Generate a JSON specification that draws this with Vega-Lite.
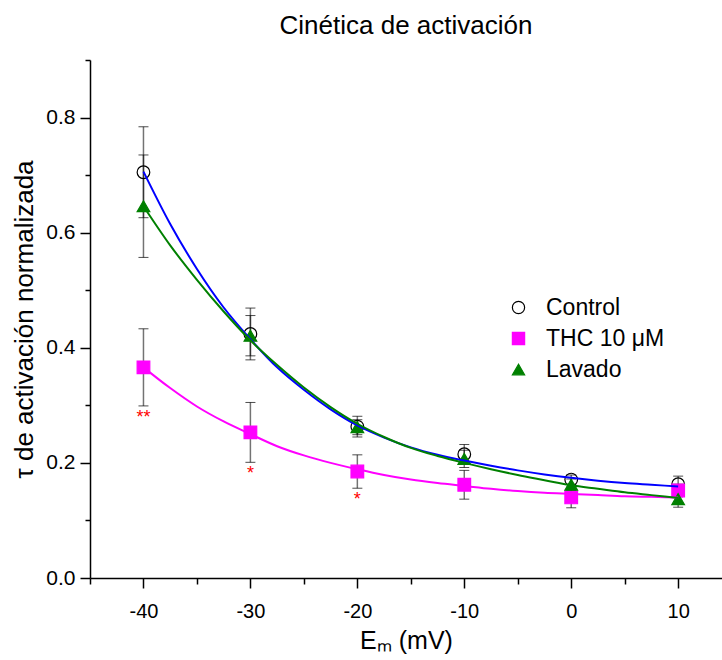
{
  "$schema": "https://vega.github.io/schema/vega-lite/v6.json",
  "width": 632,
  "height": 518,
  "autosize": {"type": "none"},
  "padding": {"left": 90, "top": 60, "right": 0, "bottom": 82},
  "background": "white",
  "title": {"text": "Cinética de activación", "fontSize": 26, "font": "Liberation Sans", "fontWeight": "normal", "color": "black", "offset": 20},
  "config": {"view": {"stroke": null}, "font": "Liberation Sans"},
  "datasets": {
    "points": [
      {"E": -40, "tau": 0.705, "err": 0.079, "series": "Control", "sig": ""},
      {"E": -30, "tau": 0.424, "err": 0.045, "series": "Control", "sig": ""},
      {"E": -20, "tau": 0.263, "err": 0.018, "series": "Control", "sig": ""},
      {"E": -10, "tau": 0.215, "err": 0.017, "series": "Control", "sig": ""},
      {"E": 0, "tau": 0.171, "err": 0.008, "series": "Control", "sig": ""},
      {"E": 10, "tau": 0.163, "err": 0.014, "series": "Control", "sig": ""},
      {"E": -40, "tau": 0.366, "err": 0.067, "series": "THC 10 μM", "sig": "**"},
      {"E": -30, "tau": 0.253, "err": 0.052, "series": "THC 10 μM", "sig": "*"},
      {"E": -20, "tau": 0.185, "err": 0.029, "series": "THC 10 μM", "sig": "*"},
      {"E": -10, "tau": 0.162, "err": 0.025, "series": "THC 10 μM", "sig": ""},
      {"E": 0, "tau": 0.140, "err": 0.018, "series": "THC 10 μM", "sig": ""},
      {"E": 10, "tau": 0.152, "err": 0.011, "series": "THC 10 μM", "sig": ""},
      {"E": -40, "tau": 0.646, "err": 0.089, "series": "Lavado", "sig": ""},
      {"E": -30, "tau": 0.421, "err": 0.035, "series": "Lavado", "sig": ""},
      {"E": -20, "tau": 0.262, "err": 0.013, "series": "Lavado", "sig": ""},
      {"E": -10, "tau": 0.207, "err": 0.015, "series": "Lavado", "sig": ""},
      {"E": 0, "tau": 0.162, "err": 0.010, "series": "Lavado", "sig": ""},
      {"E": 10, "tau": 0.137, "err": 0.014, "series": "Lavado", "sig": ""}
    ],
    "curves": [
      {"E": -40, "tau": 0.706, "series": "Control"},
      {"E": -37.5, "tau": 0.615, "series": "Control"},
      {"E": -35, "tau": 0.537, "series": "Control"},
      {"E": -32.5, "tau": 0.470, "series": "Control"},
      {"E": -30, "tau": 0.415, "series": "Control"},
      {"E": -27.5, "tau": 0.366, "series": "Control"},
      {"E": -25, "tau": 0.327, "series": "Control"},
      {"E": -22.5, "tau": 0.293, "series": "Control"},
      {"E": -20, "tau": 0.265, "series": "Control"},
      {"E": -17.5, "tau": 0.244, "series": "Control"},
      {"E": -15, "tau": 0.227, "series": "Control"},
      {"E": -12.5, "tau": 0.214, "series": "Control"},
      {"E": -10, "tau": 0.204, "series": "Control"},
      {"E": -7.5, "tau": 0.195, "series": "Control"},
      {"E": -5, "tau": 0.187, "series": "Control"},
      {"E": -2.5, "tau": 0.180, "series": "Control"},
      {"E": 0, "tau": 0.174, "series": "Control"},
      {"E": 2.5, "tau": 0.169, "series": "Control"},
      {"E": 5, "tau": 0.165, "series": "Control"},
      {"E": 7.5, "tau": 0.162, "series": "Control"},
      {"E": 10, "tau": 0.159, "series": "Control"},
      {"E": -40, "tau": 0.366, "series": "THC 10 μM"},
      {"E": -37.5, "tau": 0.330, "series": "THC 10 μM"},
      {"E": -35, "tau": 0.298, "series": "THC 10 μM"},
      {"E": -32.5, "tau": 0.272, "series": "THC 10 μM"},
      {"E": -30, "tau": 0.250, "series": "THC 10 μM"},
      {"E": -27.5, "tau": 0.229, "series": "THC 10 μM"},
      {"E": -25, "tau": 0.213, "series": "THC 10 μM"},
      {"E": -22.5, "tau": 0.200, "series": "THC 10 μM"},
      {"E": -20, "tau": 0.189, "series": "THC 10 μM"},
      {"E": -17.5, "tau": 0.179, "series": "THC 10 μM"},
      {"E": -15, "tau": 0.171, "series": "THC 10 μM"},
      {"E": -12.5, "tau": 0.165, "series": "THC 10 μM"},
      {"E": -10, "tau": 0.160, "series": "THC 10 μM"},
      {"E": -7.5, "tau": 0.155, "series": "THC 10 μM"},
      {"E": -5, "tau": 0.151, "series": "THC 10 μM"},
      {"E": -2.5, "tau": 0.148, "series": "THC 10 μM"},
      {"E": 0, "tau": 0.146, "series": "THC 10 μM"},
      {"E": 2.5, "tau": 0.144, "series": "THC 10 μM"},
      {"E": 5, "tau": 0.142, "series": "THC 10 μM"},
      {"E": 7.5, "tau": 0.141, "series": "THC 10 μM"},
      {"E": 10, "tau": 0.140, "series": "THC 10 μM"},
      {"E": -40, "tau": 0.646, "series": "Lavado"},
      {"E": -37.5, "tau": 0.578, "series": "Lavado"},
      {"E": -35, "tau": 0.518, "series": "Lavado"},
      {"E": -32.5, "tau": 0.463, "series": "Lavado"},
      {"E": -30, "tau": 0.413, "series": "Lavado"},
      {"E": -27.5, "tau": 0.370, "series": "Lavado"},
      {"E": -25, "tau": 0.331, "series": "Lavado"},
      {"E": -22.5, "tau": 0.297, "series": "Lavado"},
      {"E": -20, "tau": 0.268, "series": "Lavado"},
      {"E": -17.5, "tau": 0.245, "series": "Lavado"},
      {"E": -15, "tau": 0.226, "series": "Lavado"},
      {"E": -12.5, "tau": 0.212, "series": "Lavado"},
      {"E": -10, "tau": 0.200, "series": "Lavado"},
      {"E": -7.5, "tau": 0.189, "series": "Lavado"},
      {"E": -5, "tau": 0.179, "series": "Lavado"},
      {"E": -2.5, "tau": 0.170, "series": "Lavado"},
      {"E": 0, "tau": 0.161, "series": "Lavado"},
      {"E": 2.5, "tau": 0.155, "series": "Lavado"},
      {"E": 5, "tau": 0.149, "series": "Lavado"},
      {"E": 7.5, "tau": 0.144, "series": "Lavado"},
      {"E": 10, "tau": 0.139, "series": "Lavado"}
    ]
  },
  "encoding": {
    "x": {
      "field": "E", "type": "quantitative",
      "scale": {"domain": [-45, 14.1], "nice": false, "zero": false},
      "axis": {
        "title": "Eₘ (mV)",
        "values": [-45, -40, -35, -30, -25, -20, -15, -10, -5, 0, 5, 10],
        "labelExpr": "datum.value % 10 == 0 ? (datum.value + '') : ''",
        "tickSize": {"condition": {"test": "datum.value % 10 != 0", "value": 6}, "value": 10},
        "grid": false,
        "domainColor": "black", "domainWidth": 1.5,
        "tickColor": "black", "tickWidth": 1.5,
        "labelFontSize": 20, "labelColor": "black", "labelPadding": 13, "labelFlush": false,
        "labelFont": "Liberation Sans",
        "titleFontSize": 25, "titleFontWeight": "normal", "titleColor": "black", "titlePadding": 7,
        "titleFont": "Liberation Sans"
      }
    },
    "y": {
      "field": "tau", "type": "quantitative",
      "scale": {"domain": [0, 0.9], "nice": false},
      "axis": {
        "title": "τ de activación normalizada",
        "values": [0, 0.1, 0.2, 0.3, 0.4, 0.5, 0.6, 0.7, 0.8, 0.9],
        "labelExpr": "(round(datum.value * 10) % 2 == 0) ? format(datum.value, '.1f') : ''",
        "tickSize": {"condition": {"test": "round(datum.value * 10) % 2 == 1", "value": 5}, "value": 10},
        "grid": false,
        "domainColor": "black", "domainWidth": 1.5,
        "tickColor": "black", "tickWidth": 1.5,
        "labelFontSize": 21, "labelColor": "black", "labelPadding": 5, "labelFlush": false,
        "labelFont": "Liberation Sans",
        "titleFontSize": 26, "titleFontWeight": "normal", "titleColor": "black", "titlePadding": 8,
        "titleFont": "Liberation Sans"
      }
    }
  },
  "layer": [
    {
      "data": {"name": "points"},
      "mark": {"type": "errorbar", "ticks": {"size": 10, "color": "black", "strokeWidth": 1.2}, "rule": {"color": "black", "opacity": 0.55, "strokeWidth": 1.5}},
      "encoding": {
        "yError": {"field": "err"},
        "detail": {"field": "series", "type": "nominal"}
      }
    },
    {
      "data": {"name": "points"},
      "mark": {"type": "point", "size": 160, "strokeWidth": 1.2, "opacity": 1},
      "encoding": {
        "shape": {
          "field": "series", "type": "nominal",
          "scale": {"domain": ["Control", "THC 10 μM", "Lavado"], "range": ["circle", "square", "triangle-up"]},
          "legend": {
            "orient": "none", "legendX": 417, "legendY": 236, "title": null,
            "labelFontSize": 23, "labelFont": "Liberation Sans", "labelColor": "black",
            "symbolSize": 150, "rowPadding": 7, "labelOffset": 16, "symbolStrokeWidth": 1.2
          }
        },
        "fill": {
          "field": "series", "type": "nominal",
          "scale": {"domain": ["Control", "THC 10 μM", "Lavado"], "range": ["transparent", "#ff00ff", "#008000"]}
        },
        "stroke": {
          "field": "series", "type": "nominal",
          "scale": {"domain": ["Control", "THC 10 μM", "Lavado"], "range": ["black", "#ff00ff", "#008000"]}
        }
      }
    },
    {
      "data": {"name": "curves"},
      "mark": {"type": "line", "interpolate": "monotone", "strokeWidth": 2},
      "encoding": {
        "color": {
          "field": "series", "type": "nominal",
          "scale": {"domain": ["Control", "THC 10 μM", "Lavado"], "range": ["#0000ff", "#ff00ff", "#008000"]},
          "legend": null
        }
      }
    },
    {
      "data": {"name": "points"},
      "transform": [
        {"filter": "datum.sig != ''"},
        {"calculate": "datum.tau - datum.err", "as": "lo"}
      ],
      "mark": {"type": "text", "color": "#ff0000", "fontSize": 18, "baseline": "top", "dy": 3, "font": "Liberation Sans"},
      "encoding": {
        "y": {"field": "lo", "type": "quantitative"},
        "text": {"field": "sig"}
      }
    }
  ]
}
